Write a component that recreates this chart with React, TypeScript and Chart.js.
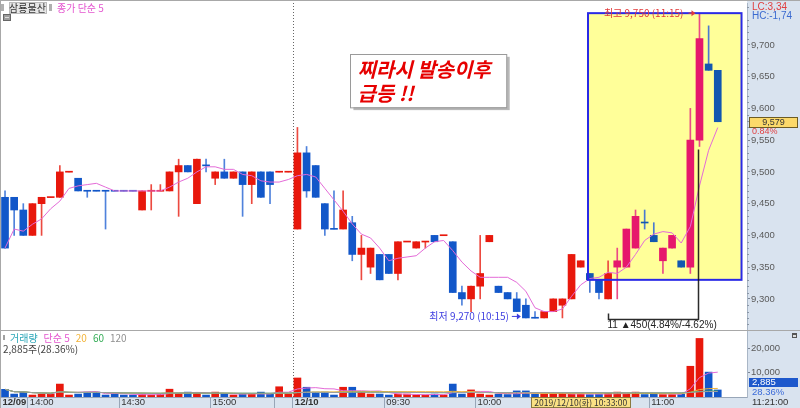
import { useEffect, useRef } from 'react';
import { Chart, registerables } from 'chart.js';

Chart.register(...registerables);

// ---------------- data ----------------
const stockName = '삼룡물산';
// 3-minute candles: 12/09 13:51 .. 15:30 (32), 12/10 09:00 .. 11:18 (47)
const opens = [
  9460, 9460, 9440, 9400, 9450, 9460, 9460, 9500, 9490, 9470, 9470, 9470, 9470, 9470, 9470, 9440,
  9470, 9470, 9470, 9500, 9510, 9450, 9510, 9490, 9500, 9490, 9500, 9480, 9500, 9500, 9500, 9500,
  9410, 9530, 9510, 9450, 9410, 9410, 9420, 9370, 9350, 9370, 9370, 9340, 9390, 9380, 9390, 9400,
  9400, 9390, 9310, 9300, 9320, 9390, 9320, 9310, 9300, 9290, 9270, 9270, 9280, 9290, 9300, 9350,
  9340, 9330, 9300, 9350, 9350, 9380, 9420, 9400, 9360, 9380, 9360, 9350, 9550, 9670, 9660,
];
const highs = [
  9470, 9460, 9450, 9450, 9460, 9460, 9510, 9500, 9490, 9470, 9470, 9470, 9470, 9470, 9470, 9470,
  9480, 9480, 9500, 9520, 9510, 9520, 9520, 9500, 9520, 9500, 9500, 9500, 9500, 9500, 9500, 9500,
  9570, 9540, 9510, 9450, 9470, 9470, 9430, 9400, 9380, 9370, 9370, 9390, 9390, 9390, 9390, 9400,
  9400, 9390, 9320, 9320, 9400, 9400, 9320, 9310, 9310, 9300, 9280, 9280, 9300, 9300, 9370, 9360,
  9340, 9330, 9360, 9380, 9410, 9440, 9440, 9420, 9380, 9400, 9360, 9600, 9750, 9730, 9660,
];
const lows = [
  9380, 9400, 9400, 9400, 9400, 9460, 9460, 9500, 9470, 9460, 9470, 9410, 9470, 9470, 9470, 9440,
  9440, 9470, 9470, 9430, 9500, 9450, 9500, 9480, 9490, 9490, 9430, 9450, 9460, 9450, 9500, 9500,
  9410, 9460, 9460, 9400, 9410, 9410, 9360, 9330, 9340, 9330, 9340, 9330, 9390, 9380, 9380, 9390,
  9400, 9310, 9290, 9280, 9300, 9390, 9310, 9300, 9280, 9270, 9270, 9270, 9280, 9270, 9300, 9350,
  9310, 9300, 9300, 9300, 9350, 9380, 9410, 9390, 9340, 9380, 9350, 9340, 9540, 9660, 9579,
];
const closes = [
  9380, 9440, 9400, 9450, 9460, 9460, 9500, 9500, 9470, 9470, 9470, 9470, 9470, 9470, 9470, 9470,
  9470, 9470, 9500, 9510, 9500, 9520, 9510, 9500, 9490, 9500, 9480, 9500, 9460, 9480, 9500, 9500,
  9530, 9470, 9460, 9410, 9410, 9440, 9370, 9380, 9380, 9330, 9340, 9390, 9390, 9390, 9390, 9390,
  9400, 9310, 9300, 9320, 9340, 9400, 9310, 9300, 9280, 9270, 9270, 9280, 9300, 9300, 9370, 9360,
  9330, 9310, 9340, 9360, 9410, 9430, 9420, 9390, 9380, 9400, 9350, 9550, 9710, 9660, 9579,
];
// 1 = 양봉(red), -1 = 음봉(blue)
const dirs = [
  -1, -1, -1, 1, 1, 1, 1, 1, -1, -1, -1, -1, -1, -1, -1, 1,
  1, 1, 1, 1, -1, 1, -1, 1, -1, 1, -1, 1, -1, -1, 1, 1,
  1, -1, -1, -1, -1, 1, -1, 1, 1, -1, -1, 1, 1, 1, 1, -1,
  1, -1, -1, 1, 1, 1, -1, -1, -1, -1, -1, 1, 1, 1, 1, 1,
  -1, -1, 1, 1, 1, 1, -1, -1, 1, 1, -1, 1, 1, -1, -1,
];
const volumes = [
  3150, 1200, 2000, 800, 1200, 1200, 5300, 800, 1200, 2000, 2000, 800, 1200, 800, 800, 1200,
  800, 1200, 3200, 1500, 2000, 1500, 800, 2000, 1200, 800, 1200, 1200, 2000, 1200, 4200, 1200,
  7800, 4000, 2000, 2000, 800, 4000, 4000, 2000, 1200, 1200, 800, 1200, 1200, 800, 800, 1200,
  800, 5300, 1200, 2900, 1200, 800, 1200, 1000, 2500, 2500, 1200, 1200, 1200, 1500, 1200, 1200,
  1000, 1200, 1500, 2000, 1200, 2000, 1000, 1200, 1000, 1000, 1200, 12600, 24000, 10200, 2885,
];
const priceTicks = [9300, 9350, 9400, 9450, 9500, 9550, 9600, 9650, 9700];
const volumeTicks = [10000, 20000];
const timeTickIndex = [0, 3, 13, 23, 30, 32, 42, 52, 71];
const timeTickLabels = ['12/09', '14:00', '14:30', '15:00', '', '12/10', '09:30', '10:00', '11:00'];
const lastTimeLabel = '11:21:00';
const cursorIndex = 63;
const cursorLabel = '2019/12/10(화) 10:33:00';
const dayBreakIndex = 32;
const highTime = '11:15';
const lowTime = '10:15';
const measureFromIndex = 66;
const changePct = '0.84%';
const lcText = 'LC:3,34';
const hcText = 'HC:-1,74';
const volumeRatio = '28.36%';
const noteLines = ['찌라시 발송이후', '급등 !!'];
// highlight box (data coordinates)
const boxFrom = 63.8;
const boxTo = 80.6;
const boxTop = 9750;
const boxBottom = 9330;
// note box (data coordinates)
const noteFrom = 37.8;
const noteTo = 54.9;
const noteTop = 9686;
const noteBottom = 9602;

// ---------------- styling ----------------
const X_MIN = -0.55;
const X_MAX = 81.2;
const PRICE_MIN = 9251;
const PRICE_MAX = 9766;
const VOL_MAX = 27050;
const RED = '#e8180c';
const BLUE = '#1257c9';
const PINK = '#e6186c';
const BLUE_BOX = '#1257b0';
const AXIS_BG = '#d9e3ef';
const FONT = '"Liberation Sans", "Noto Sans CJK KR", sans-serif';
const KFONT = '"Noto Sans CJK KR", "Liberation Sans", sans-serif';

const fmt = (v: number) => Math.round(v).toLocaleString('en-US');
const sma = (arr: number[], n: number) =>
  arr.map((_, i) => {
    const w = arr.slice(Math.max(0, i - n + 1), i + 1);
    return w.reduce((a, b) => a + b, 0) / w.length;
  });

const inBox = (i: number) =>
  i >= boxFrom && i <= boxTo && Math.min(opens[i], closes[i]) >= boxBottom;

function text(
  ctx: CanvasRenderingContext2D,
  s: string,
  x: number,
  y: number,
  color: string,
  font: string,
  align: CanvasTextAlign = 'left',
) {
  ctx.fillStyle = color;
  ctx.font = font;
  ctx.textAlign = align;
  ctx.textBaseline = 'middle';
  ctx.fillText(s, x, y);
}

const pricePlugin = {
  id: 'pricePanel',
  beforeDraw(chart: any) {
    const { ctx, width, height, chartArea: a } = chart;
    ctx.save();
    ctx.fillStyle = '#ffffff';
    ctx.fillRect(0, 0, width, height);
    ctx.fillStyle = AXIS_BG;
    ctx.fillRect(a.right, 0, width - a.right, height);
    ctx.restore();
  },
  beforeDatasetsDraw(chart: any) {
    const { ctx, height, scales } = chart;
    const x = scales.x;
    const y = scales.y;
    ctx.save();
    const bx0 = x.getPixelForValue(boxFrom);
    const bx1 = x.getPixelForValue(boxTo);
    const by0 = y.getPixelForValue(boxTop);
    const by1 = y.getPixelForValue(boxBottom);
    ctx.fillStyle = '#ffff99';
    ctx.fillRect(bx0, by0, bx1 - bx0, by1 - by0);
    const px = Math.round(x.getPixelForValue(dayBreakIndex - 0.5)) + 0.5;
    ctx.strokeStyle = '#666';
    ctx.lineWidth = 1;
    ctx.setLineDash([1, 2]);
    ctx.beginPath();
    ctx.moveTo(px, 0);
    ctx.lineTo(px, height);
    ctx.stroke();
    ctx.restore();
  },
  afterDatasetsDraw(chart: any) {
    const { ctx, scales } = chart;
    const x = scales.x;
    const y = scales.y;
    ctx.save();
    const bx0 = x.getPixelForValue(boxFrom);
    const bx1 = x.getPixelForValue(boxTo);
    const by0 = y.getPixelForValue(boxTop);
    const by1 = y.getPixelForValue(boxBottom);
    ctx.strokeStyle = '#2a2ae6';
    ctx.lineWidth = 2;
    ctx.strokeRect(bx0, by0, bx1 - bx0, by1 - by0);

    // high label
    const hi = Math.max(...highs);
    const hiIdx = highs.indexOf(hi);
    const hx = x.getPixelForValue(hiIdx);
    const hy = y.getPixelForValue(hi);
    text(ctx, `최고 ${fmt(hi)} (${highTime})`, hx - 16, hy, '#e23a3a', `10px ${KFONT}`, 'right');
    ctx.fillStyle = '#e23a3a';
    ctx.beginPath();
    ctx.moveTo(hx - 8, hy - 3);
    ctx.lineTo(hx - 4, hy);
    ctx.lineTo(hx - 8, hy + 3);
    ctx.closePath();
    ctx.fill();
    ctx.strokeStyle = '#e23a3a';
    ctx.lineWidth = 1;
    ctx.beginPath();
    ctx.moveTo(hx - 11, hy);
    ctx.lineTo(hx - 6, hy);
    ctx.stroke();

    // low label
    const lo = Math.min(...lows);
    const loIdx = lows.indexOf(lo);
    const lx = x.getPixelForValue(loIdx);
    const ly = y.getPixelForValue(lo) - 2;
    text(ctx, `최저 ${fmt(lo)} (${lowTime})`, lx - 17, ly, '#3e3ee0', `10px ${KFONT}`, 'right');
    ctx.strokeStyle = '#3e3ee0';
    ctx.fillStyle = '#3e3ee0';
    ctx.beginPath();
    ctx.moveTo(lx - 14, ly + 0.5);
    ctx.lineTo(lx - 7, ly + 0.5);
    ctx.stroke();
    ctx.beginPath();
    ctx.moveTo(lx - 9, ly - 2.5);
    ctx.lineTo(lx - 5, ly + 0.5);
    ctx.lineTo(lx - 9, ly + 3.5);
    ctx.closePath();
    ctx.fill();

    // measurement bracket
    const fromLow = lows[measureFromIndex];
    const mx0 = Math.round(x.getPixelForValue(measureFromIndex)) + 0.5;
    const mx1 = Math.round(x.getPixelForValue(hiIdx)) - 0.5;
    const levelY = Math.round(y.getPixelForValue(fromLow)) + 20.5;
    ctx.strokeStyle = 'rgba(20,20,20,0.9)';
    ctx.lineWidth = 1.5;
    ctx.beginPath();
    ctx.moveTo(mx0, levelY - 6);
    ctx.lineTo(mx0, levelY);
    ctx.lineTo(mx1, levelY);
    ctx.lineTo(mx1, y.getPixelForValue(lows[hiIdx]) + 3);
    ctx.stroke();
    const rise = hi - fromLow;
    const up = ((rise / fromLow) * 100).toFixed(2);
    const down = ((-rise / hi) * 100).toFixed(2);
    text(
      ctx,
      `${hiIdx - measureFromIndex + 1} ▲${rise}(${up}%/${down}%)`,
      mx0 - 1,
      levelY + 6,
      '#222',
      `10px ${FONT}`,
    );

    // note box
    const nx0 = x.getPixelForValue(noteFrom);
    const nx1 = x.getPixelForValue(noteTo);
    const ny0 = y.getPixelForValue(noteTop);
    const ny1 = y.getPixelForValue(noteBottom);
    ctx.fillStyle = '#b8b8b8';
    ctx.fillRect(nx0 + 3, ny0 + 3, nx1 - nx0, ny1 - ny0);
    ctx.fillStyle = '#ffffff';
    ctx.fillRect(nx0, ny0, nx1 - nx0, ny1 - ny0);
    ctx.strokeStyle = '#9a9a9a';
    ctx.lineWidth = 1;
    ctx.strokeRect(Math.round(nx0) + 0.5, Math.round(ny0) + 0.5, nx1 - nx0, ny1 - ny0);
    noteLines.forEach((s, k) => {
      text(ctx, s, nx0 + 7, ny0 + 16 + k * 24, '#e60000', `italic bold 20px ${KFONT}`);
    });
    ctx.restore();
  },
  afterDraw(chart: any) {
    const { ctx, width, chartArea: a, scales } = chart;
    const y = scales.y;
    ctx.save();
    ctx.strokeStyle = '#a8a8a8';
    ctx.lineWidth = 1;
    ctx.beginPath();
    ctx.moveTo(0, 0.5);
    ctx.lineTo(width, 0.5);
    ctx.moveTo(0.5, 0);
    ctx.lineTo(0.5, chart.height);
    ctx.stroke();
    ctx.strokeStyle = '#8a96a6';
    ctx.beginPath();
    for (let v = 9260; v <= 9760; v += 10) {
      if (v % 50 === 0) continue;
      const py = Math.round(y.getPixelForValue(v)) + 0.5;
      ctx.moveTo(a.right, py);
      ctx.lineTo(a.right + 2, py);
    }
    ctx.stroke();
    // header legend
    ctx.fillStyle = '#b0b0b0';
    ctx.fillRect(1, 4, 3, 7);
    ctx.fillRect(49, 4, 3, 7);
    ctx.fillStyle = '#e6e6e6';
    ctx.fillRect(9, 2, 37, 11);
    ctx.strokeStyle = '#bcbcbc';
    ctx.strokeRect(9.5, 2.5, 37, 11);
    text(ctx, stockName, 27.5, 8, '#333', `10px ${KFONT}`, 'center');
    text(ctx, '종가 단순 5', 57, 8, '#e455cf', `10px ${KFONT}`);
    ctx.fillStyle = '#9c9c9c';
    ctx.fillRect(3, 14, 8, 7);
    ctx.strokeStyle = '#666';
    ctx.strokeRect(3.5, 14.5, 7, 6);
    ctx.strokeStyle = '#ddd';
    ctx.beginPath();
    ctx.moveTo(5, 17.5);
    ctx.lineTo(9, 17.5);
    ctx.stroke();
    text(ctx, lcText, a.right + 5, 7, '#e04040', `10px ${FONT}`);
    text(ctx, hcText, a.right + 5, 16, '#3a6ad0', `10px ${FONT}`);
    const last = closes[closes.length - 1];
    const py = Math.round(y.getPixelForValue(last));
    ctx.fillStyle = '#fcd96a';
    ctx.fillRect(a.right + 2, py - 5, width - a.right - 4, 10);
    ctx.strokeStyle = '#6d5c24';
    ctx.strokeRect(a.right + 2.5, py - 4.5, width - a.right - 5, 10);
    text(ctx, fmt(last), (a.right + width) / 2, py + 0.5, '#333', `9px ${FONT}`, 'center');
    text(ctx, changePct, a.right + 5, py + 10, '#e04040', `9px ${FONT}`);
    ctx.restore();
  },
};

const volumePlugin = {
  id: 'volumePanel',
  beforeDraw(chart: any) {
    const { ctx, width, height, chartArea: a } = chart;
    ctx.save();
    ctx.fillStyle = '#ffffff';
    ctx.fillRect(0, 0, width, height);
    ctx.fillStyle = AXIS_BG;
    ctx.fillRect(a.right, 0, width - a.right, height);
    ctx.fillRect(0, a.bottom, width, height - a.bottom);
    ctx.restore();
  },
  beforeDatasetsDraw(chart: any) {
    const { ctx, chartArea: a, scales } = chart;
    const px = Math.round(scales.x.getPixelForValue(dayBreakIndex - 0.5)) + 0.5;
    ctx.save();
    ctx.strokeStyle = '#666';
    ctx.setLineDash([1, 2]);
    ctx.beginPath();
    ctx.moveTo(px, 0);
    ctx.lineTo(px, a.bottom);
    ctx.stroke();
    ctx.restore();
  },
  afterDraw(chart: any) {
    const { ctx, width, height, chartArea: a, scales } = chart;
    const x = scales.x;
    const y = scales.y;
    ctx.save();
    ctx.strokeStyle = '#a8a8a8';
    ctx.lineWidth = 1;
    ctx.beginPath();
    ctx.moveTo(0, 0.5);
    ctx.lineTo(width, 0.5);
    ctx.moveTo(0.5, 0);
    ctx.lineTo(0.5, height);
    ctx.stroke();
    ctx.fillStyle = '#a0a0a0';
    ctx.fillRect(3, 5, 2, 5);
    let lx = 10;
    const parts: [string, string][] = [
      ['거래량', '#2aa6b8'],
      ['단순 5', '#e455cf'],
      ['20', '#f2b43a'],
      ['60', '#35ad57'],
      ['120', '#909090'],
    ];
    ctx.font = `10px ${KFONT}`;
    parts.forEach(([s, c]) => {
      text(ctx, s, lx, 8, c, `10px ${KFONT}`);
      lx += ctx.measureText(s).width + 6;
    });
    const lastVol = volumes[volumes.length - 1];
    text(ctx, `${fmt(lastVol)}주(${volumeRatio})`, 3, 19, '#444', `10px ${KFONT}`);
    ctx.fillStyle = '#555';
    ctx.fillRect(width - 8, 3, 5, 5);
    ctx.fillStyle = '#ddd';
    ctx.fillRect(width - 7, 5, 3, 2);
    const vy = Math.round(y.getPixelForValue(lastVol));
    ctx.fillStyle = '#1d58cc';
    ctx.fillRect(a.right + 2, vy - 12, width - a.right - 4, 9);
    text(ctx, fmt(lastVol), a.right + 5, vy - 7.5, '#ffffff', `9.5px ${FONT}`);
    text(ctx, volumeRatio, a.right + 5, vy + 2, '#3a6ad8', `9.5px ${FONT}`);
    text(ctx, lastTimeLabel, a.right + 5, a.bottom + 5.5, '#333', `9.5px ${FONT}`);
    ctx.font = `8.5px ${KFONT}`;
    const cw = ctx.measureText(cursorLabel).width + 6;
    const cx = x.getPixelForValue(cursorIndex);
    ctx.fillStyle = '#fae184';
    ctx.fillRect(cx - cw / 2, a.bottom, cw, height - a.bottom);
    ctx.strokeStyle = '#8a7a40';
    ctx.strokeRect(Math.round(cx - cw / 2) + 0.5, a.bottom + 0.5, Math.round(cw), height - a.bottom - 1);
    text(ctx, cursorLabel, cx, a.bottom + 5.5, '#333', `8.5px ${KFONT}`, 'center');
    ctx.restore();
  },
};

function PriceChart() {
  const ref = useRef<HTMLCanvasElement>(null);
  useEffect(() => {
    const bodyData = opens.map((o, i) => {
      const lo = Math.min(o, closes[i]);
      const hi = Math.max(o, closes[i]);
      return { x: i, y: lo === hi ? [lo - 0.5, hi + 0.5] : [lo, hi] };
    });
    const wickData = highs.map((h, i) => ({ x: i, y: [lows[i], h] }));
    const ma5 = sma(closes, 5).map((v, i) => ({ x: i, y: v }));
    const bodyColor = dirs.map((d, i) => (inBox(i) ? (d > 0 ? PINK : BLUE_BOX) : d > 0 ? RED : BLUE));
    const wickColor = dirs.map((d, i) =>
      inBox(i) ? (d > 0 ? '#ea4a86' : '#4a7ad0') : d > 0 ? '#ec4a40' : '#4f82dc',
    );
    const chart = new Chart(ref.current as HTMLCanvasElement, {
      type: 'bar',
      data: {
        datasets: [
          {
            type: 'line',
            data: ma5 as any,
            borderColor: '#e46bd8',
            borderWidth: 1,
            pointRadius: 0,
            tension: 0,
            order: 0,
          } as any,
          {
            type: 'bar',
            data: bodyData as any,
            backgroundColor: bodyColor,
            barThickness: 7,
            minBarLength: 1,
            grouped: false,
            order: 1,
          } as any,
          {
            type: 'bar',
            data: wickData as any,
            backgroundColor: wickColor,
            barThickness: 1,
            grouped: false,
            order: 2,
          } as any,
        ],
      },
      options: {
        animation: false,
        responsive: false,
        maintainAspectRatio: false,
        devicePixelRatio: 1,
        events: [],
        layout: { padding: { top: 3, left: 0, right: 0, bottom: 0 } },
        plugins: { legend: { display: false }, tooltip: { enabled: false } },
        scales: {
          x: { type: 'linear', min: X_MIN, max: X_MAX, display: false, offset: false, grid: { offset: false } },
          y: {
            position: 'right',
            min: PRICE_MIN,
            max: PRICE_MAX,
            afterFit: (s: any) => {
              s.width = 53;
              s.paddingTop = 0;
              s.paddingBottom = 0;
            },
            afterBuildTicks: (s: any) => {
              s.ticks = priceTicks.map((v) => ({ value: v }));
            },
            ticks: {
              callback: (v: any) => fmt(Number(v)),
              color: '#5a5a5a',
              padding: 1,
              font: { family: FONT, size: 9.5 },
            },
            grid: { drawOnChartArea: false, tickLength: 3, color: '#7d8796' },
            border: { display: true, color: '#a9b6c6' },
          },
        },
      } as any,
      plugins: [pricePlugin],
    });
    return () => chart.destroy();
  }, []);
  return <canvas ref={ref} width={800} height={330} style={{ display: 'block', width: 800, height: 330 }} />;
}

function VolumeChart() {
  const ref = useRef<HTMLCanvasElement>(null);
  useEffect(() => {
    const volData = volumes.map((v, i) => ({ x: i, y: v }));
    const maLine = (n: number, color: string) => ({
      type: 'line',
      data: sma(volumes, n).map((v, i) => ({ x: i, y: v })),
      borderColor: color,
      borderWidth: 1,
      pointRadius: 0,
      tension: 0,
      order: 0,
    });
    const chart = new Chart(ref.current as HTMLCanvasElement, {
      type: 'bar',
      data: {
        datasets: [
          maLine(120, '#a0a0a0') as any,
          maLine(60, '#35ad57') as any,
          maLine(20, '#f2b43a') as any,
          maLine(5, '#e46bd8') as any,
          {
            type: 'bar',
            data: volData as any,
            backgroundColor: dirs.map((d) => (d > 0 ? RED : BLUE)),
            barThickness: 7,
            grouped: false,
            order: 1,
          } as any,
        ],
      },
      options: {
        animation: false,
        responsive: false,
        maintainAspectRatio: false,
        devicePixelRatio: 1,
        events: [],
        layout: { padding: { top: 1, left: 0, right: 0, bottom: 0 } },
        plugins: { legend: { display: false }, tooltip: { enabled: false } },
        scales: {
          x: {
            type: 'linear',
            min: X_MIN,
            max: X_MAX,
            position: 'bottom',
            offset: false,
            afterFit: (s: any) => {
              s.height = 11;
              s.paddingLeft = 0;
              s.paddingRight = 0;
            },
            afterBuildTicks: (s: any) => {
              s.ticks = timeTickIndex.map((i) => ({ value: i - 0.5 }));
            },
            ticks: {
              autoSkip: false,
              maxRotation: 0,
              minRotation: 0,
              align: 'start',
              labelOffset: 2,
              padding: -11.5,
              color: '#333',
              font: (c: any) => ({
                family: FONT,
                size: 9.5,
                weight: String(timeTickLabels[c.index] || '').includes('/') ? 'bold' : 'normal',
              }),
              callback: (_v: any, i: number) => timeTickLabels[i],
            },
            grid: { offset: false, drawOnChartArea: false, drawTicks: true, tickLength: 11, color: '#98a6b8' },
            border: { display: true, color: '#98a6b8' },
          },
          y: {
            position: 'right',
            min: 0,
            max: VOL_MAX,
            afterFit: (s: any) => {
              s.width = 53;
              s.paddingTop = 0;
              s.paddingBottom = 0;
            },
            afterBuildTicks: (s: any) => {
              s.ticks = volumeTicks.map((v) => ({ value: v }));
            },
            ticks: {
              callback: (v: any) => fmt(Number(v)),
              color: '#5a5a5a',
              padding: 1,
              font: { family: FONT, size: 9.5 },
            },
            grid: { drawOnChartArea: false, tickLength: 3, color: '#7d8796' },
            border: { display: true, color: '#a9b6c6' },
          },
        },
      } as any,
      plugins: [volumePlugin],
    });
    return () => chart.destroy();
  }, []);
  return <canvas ref={ref} width={800} height={78} style={{ display: 'block', width: 800, height: 78 }} />;
}

export default function App() {
  useEffect(() => {
    document.body.style.margin = '0';
  }, []);
  return (
    <div style={{ position: 'fixed', left: 0, top: 0, width: 800, height: 408, background: '#fff' }}>
      <PriceChart />
      <VolumeChart />
    </div>
  );
}
